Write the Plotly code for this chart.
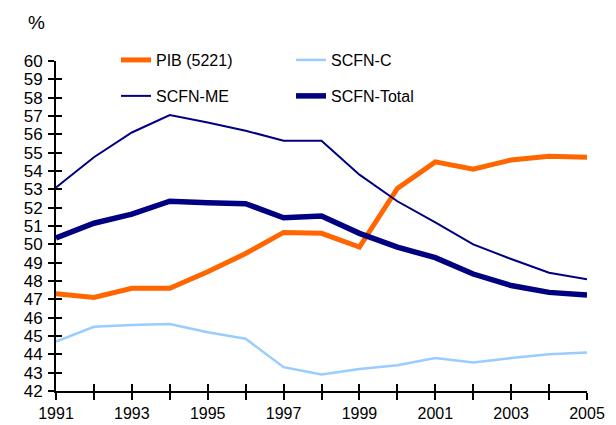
import plotly.graph_objects as go

years = list(range(1991, 2006))
pib = [47.3, 47.1, 47.6, 47.6, 48.5, 49.5, 50.65, 50.6, 49.85, 53.05, 54.5, 54.1, 54.6, 54.8, 54.75]
scfn_c = [44.7, 45.5, 45.6, 45.65, 45.2, 44.85, 43.3, 42.9, 43.2, 43.4, 43.8, 43.55, 43.8, 44.0, 44.1]
scfn_me = [53.1, 54.75, 56.1, 57.05, 56.65, 56.2, 55.65, 55.65, 53.8, 52.35, 51.2, 50.0, 49.2, 48.45, 48.1]
scfn_total = [50.35, 51.15, 51.65, 52.35, 52.27, 52.22, 51.45, 51.55, 50.6, 49.85, 49.27, 48.38, 47.75, 47.38, 47.23]
x_tick_text = [str(y) if y % 2 == 1 else "" for y in years]
y_ticks = list(range(42, 61))

ORANGE = "#FF6600"
LIGHT = "#99CCFF"
NAVY = "#000080"
FONT = "Liberation Sans, Arial, sans-serif"

fig = go.Figure()
fig.add_trace(go.Scatter(x=years, y=pib, mode="lines", name="PIB (5221)",
                         line=dict(color=ORANGE, width=5), legend="legend"))
fig.add_trace(go.Scatter(x=years, y=scfn_c, mode="lines", name="SCFN-C",
                         line=dict(color=LIGHT, width=2.5), legend="legend"))
fig.add_trace(go.Scatter(x=years, y=scfn_me, mode="lines", name="SCFN-ME",
                         line=dict(color=NAVY, width=2), legend="legend2"))
fig.add_trace(go.Scatter(x=years, y=scfn_total, mode="lines", name="SCFN-Total",
                         line=dict(color=NAVY, width=5.5), legend="legend2"))

tick_style = dict(showgrid=False, zeroline=False, tickcolor="black", tickwidth=2,
                  automargin=False)

fig.update_layout(
    width=616, height=425,
    margin=dict(l=56, r=29, t=61, b=34, autoexpand=False),
    plot_bgcolor="white", paper_bgcolor="white",
    font=dict(family=FONT, size=16, color="black"),
    xaxis=dict(range=[1991, 2005], tickvals=years, ticktext=x_tick_text,
               ticks="outside", ticklen=7, showline=True, linecolor="black", linewidth=2,
               tickfont=dict(size=16), **tick_style),
    xaxis2=dict(range=[1991, 2005], tickvals=years, showticklabels=False,
                ticks="inside", ticklen=7, overlaying="x", matches="x",
                showline=False, **tick_style),
    yaxis=dict(range=[42, 60], tickvals=y_ticks, ticks="outside", ticklen=6,
               showline=True, linecolor="black", linewidth=2,
               tickfont=dict(size=17), ticklabelstandoff=2, **tick_style),
    yaxis2=dict(range=[42, 60], tickvals=y_ticks, showticklabels=False,
                ticks="inside", ticklen=6, overlaying="y", matches="y", side="left",
                showline=False, **tick_style),
    legend=dict(orientation="h", x=0.113, xanchor="left", y=1.003, yanchor="middle",
                entrywidth=130, entrywidthmode="pixels", bgcolor="rgba(0,0,0,0)",
                font=dict(family=FONT, size=16), tracegroupgap=0),
    legend2=dict(orientation="h", x=0.113, xanchor="left", y=0.894, yanchor="middle",
                 entrywidth=130, entrywidthmode="pixels", bgcolor="rgba(0,0,0,0)",
                 font=dict(family=FONT, size=16), tracegroupgap=0),
    showlegend=True,
    annotations=[dict(text="%", xref="paper", yref="paper", x=-0.057, y=1.118,
                      xanchor="left", yanchor="middle", showarrow=False,
                      font=dict(family=FONT, size=19))],
)
# invisible trace to activate the overlay axes for crossing ticks
fig.add_trace(go.Scatter(x=[years[0]], y=[y_ticks[0]], xaxis="x2", yaxis="y2",
                         mode="markers", marker=dict(opacity=0), showlegend=False,
                         hoverinfo="skip"))

fig.write_html("out.html", config={"displayModeBar": False},
               post_script="document.body.style.margin='0';")
